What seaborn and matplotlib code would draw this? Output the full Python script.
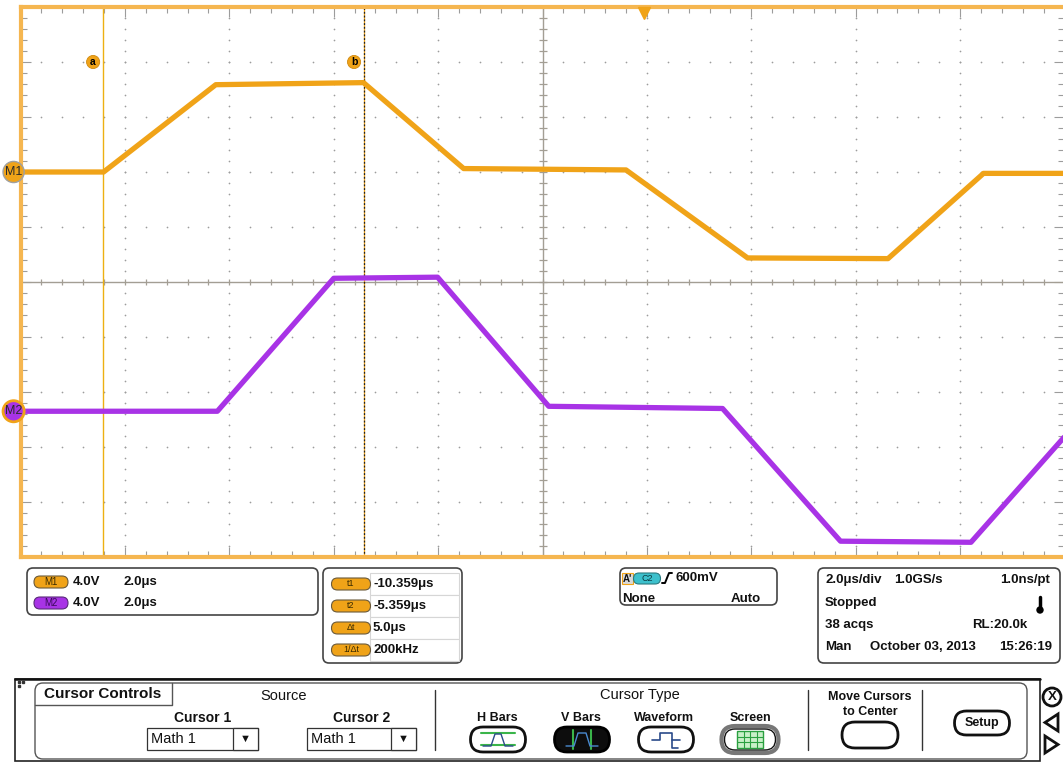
import numpy as np
import pandas as pd
import matplotlib
matplotlib.use("Agg")
import matplotlib.pyplot as plt
import matplotlib.transforms as mtransforms
from matplotlib.patches import FancyBboxPatch, Circle, Rectangle, Polygon
from matplotlib.ticker import FixedLocator, MultipleLocator
import seaborn as sns

sns.set_theme(style="white")
plt.rcParams['font.family'] = ['Liberation Sans', 'DejaVu Sans']

# ---- scope data (time in us, amplitude in V) ----
m1_time = [-11.93, -10.35, -8.20, -5.37, -3.45, -0.34, 1.99, 4.68, 6.51, 8.07]
m1_volts = [0.0, 0.0, 6.35, 6.5, 0.25, 0.15, -6.25, -6.3, -0.1, -0.1]
m2_time = [-11.93, -8.17, -5.94, -3.95, -1.82, 1.51, 3.77, 6.27, 8.07]
m2_volts = [0.0, 0.0, 9.67, 9.75, 0.36, 0.2, -9.45, -9.53, -1.82]

volts_per_div = 4.0
time_per_div = 2.0
time_left = -11.94
m1_offset_div = 2.0
m2_offset_div = -2.35
cursor_t1 = -10.359
cursor_t2 = -5.359
trigger_time = 0.0
trigger_level = "600mV"

readout_labels = ["t1", "t2", "\u0394t", "1/\u0394t"]
acq_rows = [["2.0\u03bcs/div", "1.0GS/s", "1.0ns/pt"],
            ["Stopped", "", ""],
            ["38 acqs", "", "RL:20.0k"],
            ["Man", "October 03, 2013", "15:26:19"]]

ORANGE = '#F0A318'
BORDER = '#F5B650'
PURPLE = '#A833E6'
GRAY = '#9c9c9c'

rows = []
for name, t, v, off in [("M1", m1_time, m1_volts, m1_offset_div),
                        ("M2", m2_time, m2_volts, m2_offset_div)]:
    for ti, vi in zip(t, v):
        rows.append({"trace": name, "time": ti, "div": off + vi / volts_per_div})
traces = pd.DataFrame(rows)

W, H = 1063, 768
fig = plt.figure(figsize=(W / 100, H / 100), dpi=100, facecolor='white')


def px_box(x0, y0, x1, y1):
    return [x0 / W, 1 - y1 / H, (x1 - x0) / W, (y1 - y0) / H]


ui = fig.add_axes([0, 0, 1, 1], zorder=1)
ui.set_xlim(0, W)
ui.set_ylim(H, 0)
ui.axis('off')

ax = fig.add_axes(px_box(20.6, 7, 1064.4, 557), zorder=2)
x_end = time_left + 10 * time_per_div
x_center = time_left + 5 * time_per_div
ax.set_xlim(time_left, x_end)
ax.set_ylim(-5, 5)
ax.set_facecolor('white')

major_x = time_left + np.arange(0, 11) * time_per_div
minor_x = time_left + np.arange(0, 51) * time_per_div / 5
ax.xaxis.set_major_locator(FixedLocator(major_x))
ax.xaxis.set_minor_locator(FixedLocator(minor_x))
ax.yaxis.set_major_locator(MultipleLocator(1))
ax.yaxis.set_minor_locator(MultipleLocator(0.2))
ax.tick_params(which='both', direction='in', top=True, bottom=True, left=True,
               right=True, color=GRAY, width=0.8, labelbottom=False, labelleft=False)
ax.tick_params(which='major', length=7)
ax.tick_params(which='minor', length=4)
for side in ['left', 'top', 'bottom']:
    ax.spines[side].set_color(BORDER)
    ax.spines[side].set_linewidth(3)
ax.spines['right'].set_visible(False)

# dotted graticule
minor_y = np.arange(-5, 5.001, 0.2)
for xm in major_x[1:-1]:
    if abs(xm - x_center) > 1e-6:
        ax.scatter(np.full(minor_y.size, xm), minor_y, s=1.5, color=GRAY, lw=0, zorder=1)
for ym in range(-4, 5):
    if ym != 0:
        ax.scatter(minor_x, np.full(minor_x.size, ym), s=1.5, color=GRAY, lw=0, zorder=1)

# center cross with ticks
ax.axhline(0, color='#a39e94', lw=1, zorder=1)
ax.axvline(x_center, color='#a39e94', lw=1, zorder=1)
ax.plot(minor_x, np.zeros(minor_x.size), ls='none', marker='|', ms=5, mew=0.9,
        color='#a39e94', zorder=1)
ax.plot(np.full(minor_y.size, x_center), minor_y, ls='none', marker='_', ms=6, mew=0.9,
        color='#a39e94', zorder=1)

# cursors
ax.axvline(cursor_t1, color='#EDB012', lw=1, zorder=1.5)
ax.axvline(cursor_t2, color=ORANGE, lw=0.9, zorder=1.5)
ax.axvline(cursor_t2, color='#222222', lw=0.9, dashes=(1.5, 1.5), zorder=1.6)
for lab, tc in [('a', cursor_t1), ('b', cursor_t2)]:
    ax.annotate(lab, xy=(tc, 4.0), xytext=(-10, 0), textcoords='offset pixels',
                ha='center', va='center', fontsize=7.5, fontweight='bold', color='black',
                bbox=dict(boxstyle='circle,pad=0.15', fc=ORANGE, ec='#d08a10', lw=0.6),
                zorder=4)

# waveforms
sns.lineplot(data=traces, x='time', y='div', hue='trace', palette={"M1": ORANGE, "M2": PURPLE},
             estimator=None, sort=False, linewidth=3.8, legend=False, ax=ax, zorder=3)
ax.set_xlabel('')
ax.set_ylabel('')

# trigger position marker
trig_tr = mtransforms.offset_copy(ax.transData, fig=fig, x=0, y=-6, units='dots')
ax.plot([trigger_time], [5], marker='v', ms=8, color=ORANGE, transform=trig_tr,
        clip_on=False, zorder=5)

# reference markers
ax.annotate('M1', xy=(time_left, m1_offset_div), xytext=(-7, 0), textcoords='offset pixels',
            ha='center', va='center', fontsize=9, color='#2a2a2a', annotation_clip=False,
            bbox=dict(boxstyle='circle,pad=0.15', fc=ORANGE, ec='#a0a0a0', lw=1), zorder=6)
ax.annotate('M2', xy=(time_left, m2_offset_div), xytext=(-7, 0), textcoords='offset pixels',
            ha='center', va='center', fontsize=9, color='#2a2a2a', annotation_clip=False,
            bbox=dict(boxstyle='circle,pad=0.15', fc=PURPLE, ec=ORANGE, lw=2), zorder=6)


# ---- readout panels ----
def rbox(x0, y0, x1, y1, r=6, ec='#444444', lw=1.2, fc='white'):
    ui.add_patch(FancyBboxPatch((x0, y0), x1 - x0, y1 - y0,
                                boxstyle=f"round,pad=0,rounding_size={r}", fc=fc, ec=ec, lw=lw))


def pill(cx, cy, w, h, fc, ec='#6b5a3a', label=None, color='#3a2a00', size=7, lw=0.8):
    rbox(cx - w / 2, cy - h / 2, cx + w / 2, cy + h / 2, r=h / 2, ec=ec, lw=lw, fc=fc)
    if label:
        ui.text(cx, cy, label, ha='center', va='center', fontsize=size, color=color)


def txt(x, y, s, ha='left', bold=True, size=9.5):
    ui.text(x, y, s, ha=ha, va='center', fontsize=size,
            fontweight='bold' if bold else 'normal', color='#111111')


# channel box
rbox(27, 568, 318, 615)
pill(51, 582, 34, 12, ORANGE, label='M1')
pill(51, 603, 34, 12, PURPLE, ec='#5a2a7a', label='M2', color='#3a0a5a')
for yy in (582, 603):
    txt(73, yy, f"{volts_per_div:.1f}V")
    txt(124, yy, f"{time_per_div:.1f}\u03bcs")

# cursor readout box
rbox(323, 568, 462, 663)
dt = cursor_t2 - cursor_t1
readout_values = [f"{cursor_t1:.3f}\u03bcs", f"{cursor_t2:.3f}\u03bcs",
                  f"{dt:.1f}\u03bcs", f"{1e3 / dt:.0f}kHz"]
row_y = [584, 606, 628, 650]
for i, (lab, val) in enumerate(zip(readout_labels, readout_values)):
    ui.add_patch(Rectangle((370, row_y[i] - 11), 89, 22, fc='white', ec='#d6d6d6', lw=0.8))
    pill(351, row_y[i], 39, 12, ORANGE, label=lab, size=6.5)
    txt(373, row_y[i], val)

# trigger box
rbox(620, 568, 777, 605)
ui.add_patch(Rectangle((622, 573), 11, 11, fc='#d9d9d9', ec=ORANGE, lw=0.8))
txt(627.5, 578.5, "A'", ha='center', size=7)
pill(647, 578.5, 27, 11, '#3cc0cc', ec='#2a7a80', label='C2', color='#0a3a40', size=6.5)
ui.plot([662, 665, 669, 672], [583, 583, 573, 573], color='black', lw=1.4)
txt(676, 578, trigger_level)
txt(622, 599, 'None')
txt(761, 599, 'Auto', ha='right')

# acquisition box
rbox(818, 568, 1060, 663)
acq_y = [580, 603, 625, 647]
txt(825, acq_y[0], acq_rows[0][0])
txt(894, acq_y[0], acq_rows[0][1])
txt(1050, acq_y[0], acq_rows[0][2], ha='right')
txt(825, acq_y[1], acq_rows[1][0])
txt(825, acq_y[2], acq_rows[2][0])
txt(1027, acq_y[2], acq_rows[2][2], ha='right')
txt(825, acq_y[3], acq_rows[3][0])
txt(870, acq_y[3], acq_rows[3][1])
txt(1052, acq_y[3], acq_rows[3][2], ha='right')
ui.plot([1040, 1040], [597, 608], color='black', lw=2.5, solid_capstyle='round')
ui.add_patch(Circle((1040, 610), 3, color='black'))

# ---- cursor controls panel ----
ui.add_patch(Rectangle((15, 679), 1025, 82, fc='white', ec='#222222', lw=1.2))
ui.plot([15, 1040], [679, 679], color='#111111', lw=1.8)
for gx, gy in [(18, 681), (18, 685), (22, 681)]:
    ui.add_patch(Rectangle((gx, gy), 2, 2, color='#333333'))
rbox(35, 683, 1027, 759, r=8, ec='#555555', lw=1.0)
ui.plot([35, 172, 172], [705, 705, 683], color='#555555', lw=1.0)
txt(44, 694, 'Cursor Controls', size=11)
txt(284, 696, 'Source', ha='center', bold=False, size=10.5)
txt(203, 718, 'Cursor 1', ha='center', size=10)
txt(362, 718, 'Cursor 2', ha='center', size=10)
for x0, x1 in [(147, 258), (307, 416)]:
    ui.add_patch(Rectangle((x0, 728), x1 - x0, 22, fc='white', ec='#333333', lw=0.9))
    ui.add_patch(Rectangle((x1 - 25, 728), 25, 22, fc='white', ec='#333333', lw=0.9))
    txt(x0 + 4, 739, 'Math 1', bold=False, size=10.5)
    ui.text(x1 - 12.5, 739, '\u25bc', ha='center', va='center', fontsize=8, color='#111111')
for sx in (435, 808, 922):
    ui.plot([sx, sx], [690, 750], color='#333333', lw=1)

txt(640, 695, 'Cursor Type', ha='center', bold=False, size=10.5)
for cx, lab in [(497, 'H Bars'), (581, 'V Bars'), (664, 'Waveform'), (750, 'Screen')]:
    txt(cx, 718, lab, ha='center', size=9)

# H Bars button
pill(498, 739.5, 55, 25, 'white', ec='#111111', lw=2)
ui.plot([481, 515], [733, 733], color='#3ab54a', lw=1.5)
ui.plot([481, 515], [745, 745], color='#3ab54a', lw=1.5)
ui.plot([483, 491, 495, 501, 505, 513], [746, 746, 734, 734, 746, 746], color='#2a4a8a', lw=1)
# V Bars button
pill(582, 739.5, 55, 25, '#0d0d0d', ec='#000000', lw=2)
ui.plot([573, 573], [730, 749], color='#3ab54a', lw=1.5)
ui.plot([591, 591], [730, 749], color='#3ab54a', lw=1.5)
ui.plot([566, 574, 578, 586, 590, 598], [746, 746, 733, 733, 746, 746], color='#4a8ad0', lw=1)
# Waveform button
pill(666, 739.5, 55, 25, 'white', ec='#111111', lw=2)
ui.plot([652, 660, 660, 672, 672, 680], [740, 740, 733, 733, 740, 740], color='#2a4a8a', lw=1.2)
ui.plot([672, 672, 678], [740, 748, 748], color='#2a4a8a', lw=1.2)
# Screen button
pill(750, 739.5, 57, 27, 'white', ec='#777777', lw=3)
pill(750, 739.5, 51, 21, 'white', ec='#111111', lw=1)
ui.add_patch(Rectangle((737, 731), 26, 17, fc='#c8f0c8', ec='#2aa040', lw=1))
for gx in (743.5, 750, 756.5):
    ui.plot([gx, gx], [731, 748], color='#2aa040', lw=0.8)
for gy in (736.7, 742.3):
    ui.plot([737, 763], [gy, gy], color='#2aa040', lw=0.8)

txt(870, 697, 'Move Cursors', ha='center', size=9)
txt(870, 712, 'to Center', ha='center', size=9)
pill(870, 735, 56, 26, 'white', ec='#111111', lw=2)
pill(982, 723, 55, 24, 'white', ec='#111111', lw=2)
txt(982, 723, 'Setup', ha='center', size=9)

ui.add_patch(Circle((1052, 697), 9, fc='white', ec='#111111', lw=2))
txt(1052, 697.5, 'X', ha='center', size=9.5)
ui.add_patch(Polygon([(1058, 714), (1058, 731), (1045, 722.5)], closed=True,
                     fc='white', ec='#111111', lw=2))
ui.add_patch(Polygon([(1045, 736), (1045, 753), (1058, 744.5)], closed=True,
                     fc='white', ec='#111111', lw=2))

fig.savefig('out.png', dpi=100, facecolor='white')
